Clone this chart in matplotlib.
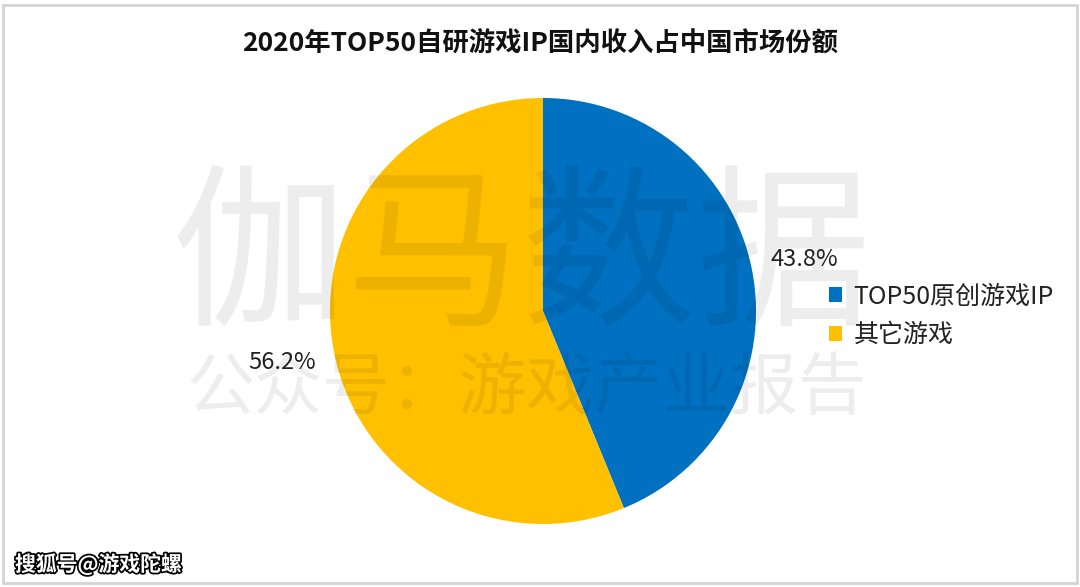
import matplotlib
matplotlib.use('Agg')
import matplotlib.pyplot as plt
import matplotlib.patheffects as pe
from matplotlib.patches import Rectangle, Patch

plt.rcParams['font.family'] = ['Noto Sans CJK SC', 'DejaVu Sans']

# data
title = '2020年TOP50自研游戏IP国内收入占中国市场份额'
labels = ['TOP50原创游戏IP', '其它游戏']
shares = [43.8, 56.2]
colors = ['#0070C0', '#FFC000']

fig = plt.figure(figsize=(10.8, 5.87), dpi=100)
W, H = 1080, 587

# border of the picture
fig.patches.append(Rectangle((3 / W, 4 / H), 1074 / W, 578 / H, transform=fig.transFigure,
                             fill=False, edgecolor='#D4D4D4', lw=2))

fig.text(0.5, 1 - 43 / H, title, ha='center', va='center',
         fontsize=19, fontweight='bold', color='#111111')

# pie centred at (543, 311) px, radius 213 px
cx, cy, r = 543, 311, 213
ax = fig.add_axes([(cx - r) / W, (H - cy - r) / H, 2 * r / W, 2 * r / H])
wedges, texts, autotexts = ax.pie(shares, colors=colors, startangle=90, counterclock=False,
                                  autopct='%.1f%%', pctdistance=1.25,
                                  textprops={'fontsize': 17, 'color': '#222222'},
                                  wedgeprops={'linewidth': 0})
ax.set_xlim(-1, 1)
ax.set_ylim(-1, 1)

handles = [Patch(facecolor=c, edgecolor='none') for c in colors]
fig.legend(handles, labels, loc='center left', bbox_to_anchor=(806 / W, 1 - 316 / H),
           frameon=False, fontsize=18, handlelength=0.55, handleheight=0.55,
           handletextpad=0.45, labelspacing=0.5, labelcolor='#222222')

# watermark
fig.text(522 / W, 1 - 262 / H, '伽马数据', ha='center', va='center', fontsize=126,
         color='black', alpha=0.07)
fig.text(527 / W, 1 - 390 / H, '公众号：游戏产业报告', ha='center', va='center', fontsize=49,
         color='black', alpha=0.07)

fig.text(15 / W, 1 - 564 / H, '搜狐号@游戏陀螺', ha='left', va='center', fontsize=15,
         fontweight='bold', color='white',
         path_effects=[pe.withStroke(linewidth=2.5, foreground='black')])

fig.savefig('out.png', dpi=100)
